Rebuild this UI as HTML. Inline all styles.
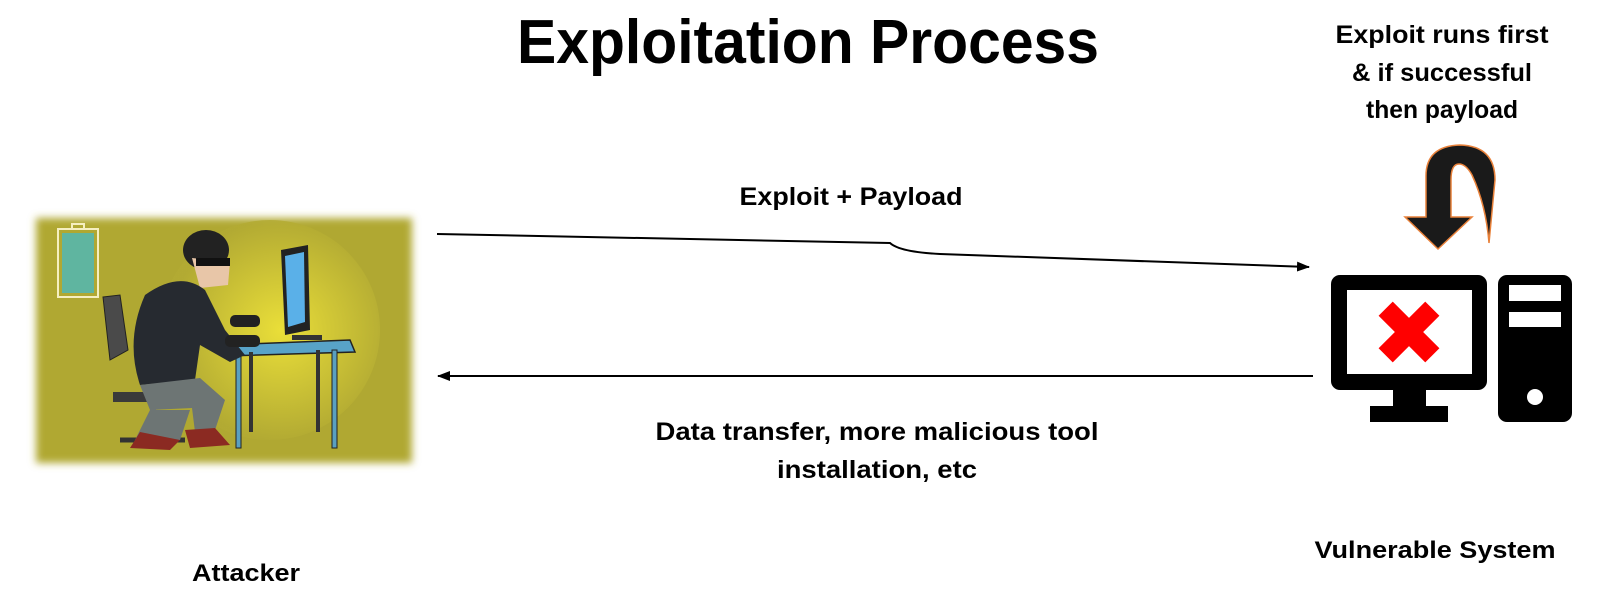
<!DOCTYPE html>
<html><head><meta charset="utf-8"><style>
html,body{margin:0;padding:0;background:#fff;}
svg{display:block;}
text{font-family:"Liberation Sans",sans-serif;font-weight:bold;fill:#000;}
</style></head><body>
<svg width="1611" height="608" viewBox="0 0 1611 608" xmlns="http://www.w3.org/2000/svg">
<defs>
<marker id="ah" markerWidth="13" markerHeight="10" refX="12" refY="5" orient="auto" markerUnits="userSpaceOnUse">
<path d="M0,0 L13,5 L0,10 z" fill="#000"/></marker>
<radialGradient id="glow" cx="0.55" cy="0.5" r="0.5">
<stop offset="0" stop-color="#f4e83a"/><stop offset="1" stop-color="#b3ab33"/></radialGradient>
<filter id="blur"><feGaussianBlur stdDeviation="4"/></filter>
</defs>
<text x="808" y="63" font-size="62" text-anchor="middle" textLength="582" lengthAdjust="spacingAndGlyphs">Exploitation Process</text>
<text x="1442" y="43" font-size="25" text-anchor="middle" textLength="213" lengthAdjust="spacingAndGlyphs">Exploit runs first</text>
<text x="1442" y="81" font-size="25" text-anchor="middle" textLength="180" lengthAdjust="spacingAndGlyphs">&amp; if successful</text>
<text x="1442" y="118" font-size="25" text-anchor="middle" textLength="152" lengthAdjust="spacingAndGlyphs">then payload</text>
<text x="851" y="205" font-size="25" text-anchor="middle" textLength="223" lengthAdjust="spacingAndGlyphs">Exploit + Payload</text>
<text x="877" y="440" font-size="25" text-anchor="middle" textLength="443" lengthAdjust="spacingAndGlyphs">Data transfer, more malicious tool</text>
<text x="877" y="478" font-size="25" text-anchor="middle" textLength="200" lengthAdjust="spacingAndGlyphs">installation, etc</text>
<text x="246" y="581" font-size="24" text-anchor="middle" textLength="108" lengthAdjust="spacingAndGlyphs">Attacker</text>
<text x="1435" y="558" font-size="24" text-anchor="middle" textLength="241" lengthAdjust="spacingAndGlyphs">Vulnerable System</text>

<path d="M437,234 L890,243 Q900,252 940,254 L1309,267" fill="none" stroke="#000" stroke-width="2" marker-end="url(#ah)"/>
<path d="M1313,376 L438,376" fill="none" stroke="#000" stroke-width="2" marker-end="url(#ah)"/>

<g>
<rect x="36" y="218" width="376" height="245" fill="#b0a832" filter="url(#blur)"/>
<ellipse cx="270" cy="330" rx="110" ry="110" fill="url(#glow)" opacity="0.85"/>
<rect x="58" y="229" width="40" height="68" fill="none" stroke="#f5efc0" stroke-width="2"/>
<rect x="62" y="233" width="32" height="60" fill="#5fb5a0"/>
<rect x="72" y="224" width="12" height="5" fill="none" stroke="#f5efc0" stroke-width="2"/>
<polygon points="222,345 350,340 355,352 225,356" fill="#58a3c8" stroke="#222" stroke-width="1.5"/>
<rect x="236" y="352" width="5" height="96" fill="#5aa0c0" stroke="#222"/>
<rect x="332" y="350" width="5" height="98" fill="#5aa0c0" stroke="#222"/>
<rect x="249" y="352" width="4" height="80" fill="#333"/>
<rect x="316" y="350" width="4" height="82" fill="#333"/>
<polygon points="281,250 308,245 310,330 285,335" fill="#222"/>
<polygon points="285,256 304,252 305,322 288,327" fill="#5ab0e8"/>
<rect x="292" y="335" width="30" height="5" fill="#333"/>
<path d="M103,297 L120,295 L128,350 L110,360 z" fill="#4a4a4a" stroke="#222"/>
<rect x="113" y="392" width="80" height="10" fill="#3a3a3a"/>
<rect x="150" y="400" width="6" height="30" fill="#777"/>
<path d="M120,440 L185,440" stroke="#333" stroke-width="5"/>
<ellipse cx="206" cy="250" rx="23" ry="20" fill="#222"/>
<path d="M192,258 L230,262 L228,285 L200,288 z" fill="#e8c6a8"/>
<rect x="196" y="258" width="34" height="8" fill="#111"/>
<path d="M145,295 Q180,270 205,290 L225,330 L245,355 L230,362 L200,345 L195,380 L140,385 Q125,340 145,295 z" fill="#262a30"/>
<path d="M140,385 L200,378 L225,400 L215,430 L195,432 L192,408 L150,410 z" fill="#6d7574"/>
<path d="M150,410 L190,410 L180,440 L135,440 z" fill="#6d7574"/>
<path d="M140,432 L180,440 L170,450 L130,448 z" fill="#8b2a22"/>
<path d="M185,430 L215,428 L230,445 L190,448 z" fill="#8b2a22"/>
<rect x="230" y="315" width="30" height="12" rx="5" fill="#222"/>
<rect x="225" y="335" width="35" height="12" rx="5" fill="#222"/>
</g>

<path d="M1426,217 L1426,176 Q1426,146 1460,145 Q1495,146 1495,180 L1489,243 Q1486,205 1472,175 Q1466,164 1459,164 Q1451,164 1451,180 L1451,217 L1472,217 L1438,249 L1405,217 z" fill="#1a1a1a" stroke="#e8813a" stroke-width="1.5"/>

<rect x="1331" y="275" width="156" height="115" rx="9" fill="#000"/>
<rect x="1347" y="290" width="125" height="84" fill="#fff"/>
<g transform="translate(1409,332) rotate(45)">
<rect x="-33" y="-10" width="66" height="20" fill="#ff0000"/>
<rect x="-10" y="-33" width="20" height="66" fill="#ff0000"/>
</g>
<rect x="1393" y="389" width="33" height="18" fill="#000"/>
<rect x="1370" y="406" width="78" height="16" fill="#000"/>
<rect x="1498" y="275" width="74" height="147" rx="9" fill="#000"/>
<rect x="1509" y="285" width="52" height="16" fill="#fff"/>
<rect x="1509" y="312" width="52" height="15" fill="#fff"/>
<circle cx="1535" cy="397" r="8" fill="#fff"/>
</svg>
</body></html>
